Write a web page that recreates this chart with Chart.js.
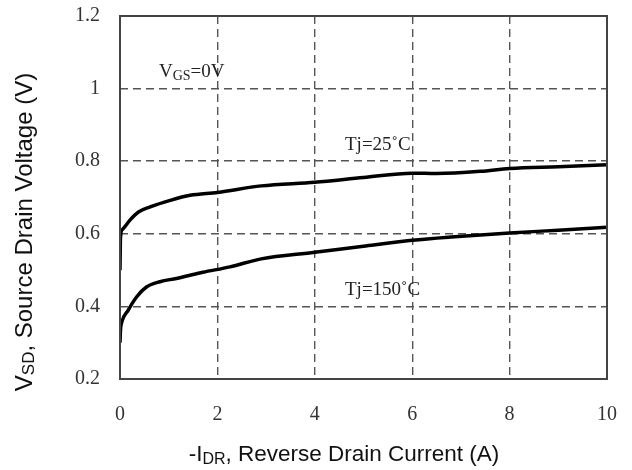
<!DOCTYPE html>
<html>
<head>
<meta charset="utf-8">
<script src="https://cdn.jsdelivr.net/npm/chart.js@4/dist/chart.umd.min.js"></script>
<style>
    html, body { margin: 0; padding: 0; background: #fff; }
    #wrap { width: 632px; height: 470px; position: relative; }
</style>
</head>
<body>
<div id="wrap"><canvas id="vsdChart" width="632" height="470"></canvas></div>
<script>
    // Reverse drain current (A) and source-drain voltage (V), per junction temperature
    const idr25 = [0, 0.01, 0.05, 0.2, 0.38, 0.62, 1.03, 1.44, 2, 2.9, 4, 5, 6, 6.5, 7.4, 8, 9, 10];
    const vsd25 = [0.5, 0.59, 0.612, 0.637, 0.66, 0.674, 0.692, 0.706, 0.714, 0.732, 0.742, 0.755, 0.767, 0.766, 0.772, 0.78, 0.785, 0.79];

    const idr150 = [0, 0.01, 0.03, 0.17, 0.34, 0.55, 0.82, 1.16, 1.44, 1.7, 2.26, 2.9, 4, 5, 6, 6.8, 8, 9, 10];
    const vsd150 = [0.3, 0.335, 0.353, 0.39, 0.426, 0.454, 0.468, 0.477, 0.486, 0.494, 0.509, 0.531, 0.549, 0.566, 0.582, 0.591, 0.602, 0.61, 0.618];

    const xTicks = [0, 2, 4, 6, 8, 10];
    const yTicks = [0.2, 0.4, 0.6, 0.8, 1.0, 1.2];

    const serif = '"Liberation Serif", "Times New Roman", serif';
    const sans = '"Liberation Sans", Arial, sans-serif';

    function pairs(xs, ys) {
        return xs.map((x, i) => ({ x: x, y: ys[i] }));
    }

    // draws a run of text pieces, some of them as subscripts
    function drawRich(ctx, parts, x, y, size, family, color) {
        ctx.save();
        ctx.fillStyle = color;
        ctx.textBaseline = 'middle';
        ctx.textAlign = 'left';
        let cx = x;
        parts.forEach(p => {
            const s = p.sub ? Math.round(size * 0.72) : size;
            ctx.font = s + 'px ' + family;
            ctx.fillText(p.t, cx, p.sub ? y + size * 0.2 : y);
            cx += ctx.measureText(p.t).width;
        });
        ctx.restore();
        return cx - x;
    }

    function richWidth(ctx, parts, size, family) {
        let w = 0;
        ctx.save();
        parts.forEach(p => {
            const s = p.sub ? Math.round(size * 0.72) : size;
            ctx.font = s + 'px ' + family;
            w += ctx.measureText(p.t).width;
        });
        ctx.restore();
        return w;
    }

    const labels = [
        { parts: [{ t: 'V' }, { t: 'GS', sub: true }, { t: '=0V' }], x: 0.8, y: 1.045 },
        { parts: [{ t: 'Tj=25˚C' }], x: 4.62, y: 0.844 },
        { parts: [{ t: 'Tj=150˚C' }], x: 4.62, y: 0.445 }
    ];

    const decorations = {
        id: 'decorations',
        afterDraw(chart) {
            const ctx = chart.ctx;
            const a = chart.chartArea;
            const xs = chart.scales.x;
            const ys = chart.scales.y;

            // plot frame
            ctx.save();
            ctx.strokeStyle = '#444';
            ctx.lineWidth = 2;
            ctx.strokeRect(a.left, a.top, a.right - a.left, a.bottom - a.top);
            ctx.restore();

            labels.forEach(l => {
                drawRich(ctx, l.parts, xs.getPixelForValue(l.x), ys.getPixelForValue(l.y), 19, serif, '#222');
            });

            // axis titles
            const yTitle = [{ t: 'V' }, { t: 'SD', sub: true }, { t: ', Source Drain Voltage (V)' }];
            const yw = richWidth(ctx, yTitle, 24, sans);
            ctx.save();
            ctx.translate(25, 232);
            ctx.rotate(-Math.PI / 2);
            drawRich(ctx, yTitle, -yw / 2, 0, 24, sans, '#111');
            ctx.restore();

            const xTitle = [{ t: '-I' }, { t: 'DR', sub: true }, { t: ', Reverse Drain Current (A)' }];
            const xw = richWidth(ctx, xTitle, 22.5, sans);
            drawRich(ctx, xTitle, 344 - xw / 2, 455, 22.5, sans, '#111');
        }
    };

    function edgeColor(v, lo, hi) {
        return (v === lo || v === hi) ? 'rgba(0,0,0,0)' : '#555';
    }

    const lineStyle = {
        borderColor: '#000',
        borderWidth: 3.5,
        pointRadius: 0,
        showLine: true,
        fill: false,
        cubicInterpolationMode: 'monotone'
    };

    new Chart(document.getElementById('vsdChart'), {
        type: 'scatter',
        data: {
            datasets: [
                Object.assign({ label: 'Tj=25˚C', data: pairs(idr25, vsd25) }, lineStyle),
                Object.assign({ label: 'Tj=150˚C', data: pairs(idr150, vsd150) }, lineStyle)
            ]
        },
        options: {
            responsive: false,
            animation: false,
            devicePixelRatio: 1,
            layout: { padding: { left: 0, top: 16, right: 25, bottom: 0 } },
            plugins: {
                legend: { display: false },
                tooltip: { enabled: false }
            },
            scales: {
                x: {
                    type: 'linear',
                    min: 0,
                    max: 10,
                    afterFit: s => { s.height = 91; },
                    afterBuildTicks: s => { s.ticks = xTicks.map(v => ({ value: v })); },
                    border: { display: false, dash: [8, 5] },
                    grid: {
                        drawTicks: true,
                        tickLength: 24,
                        tickColor: 'rgba(0,0,0,0)',
                        lineWidth: 1.4,
                        color: c => edgeColor(c.tick.value, 0, 10)
                    },
                    ticks: {
                        padding: 0,
                        color: '#333',
                        font: { family: serif, size: 20 },
                        callback: v => String(v)
                    }
                },
                y: {
                    type: 'linear',
                    min: 0.2,
                    max: 1.2,
                    afterFit: s => { s.width = 120; },
                    afterBuildTicks: s => { s.ticks = yTicks.map(v => ({ value: v })); },
                    border: { display: false, dash: [8, 5] },
                    grid: {
                        drawTicks: true,
                        tickLength: 20,
                        tickColor: 'rgba(0,0,0,0)',
                        lineWidth: 1.4,
                        color: c => edgeColor(c.tick.value, 0.2, 1.2)
                    },
                    ticks: {
                        padding: 0,
                        color: '#333',
                        font: { family: serif, size: 20 },
                        callback: v => (Math.abs(v - 1) < 1e-9 ? '1' : Number(v).toFixed(1))
                    }
                }
            }
        },
        plugins: [decorations]
    });
</script>
</body>
</html>
